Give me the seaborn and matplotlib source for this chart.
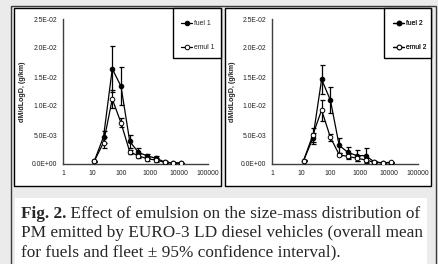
import numpy as np
import pandas as pd
import seaborn as sns
import matplotlib
matplotlib.use("Agg")
import matplotlib.pyplot as plt
from matplotlib.patches import Rectangle
from matplotlib.lines import Line2D
from matplotlib.ticker import NullLocator, FixedLocator

# ---------------- data ----------------
diam = [12, 25, 50, 100, 200, 400, 800, 1600, 3200, 6400, 12000]

fuel1 = [0.5e-3, 4.7e-3, 16.4e-3, 13.4e-3, 3.9e-3, 2.0e-3, 1.4e-3, 1.0e-3, 0.35e-3, 0.15e-3, 0.2e-3]
fuel1_err = [0.1e-3, 1.0e-3, 4.0e-3, 3.3e-3, 1.1e-3, 0.8e-3, 0.4e-3, 0.4e-3, 0.1e-3, 0.05e-3, 0.05e-3]
emul1 = [0.5e-3, 3.7e-3, 11.2e-3, 7.1e-3, 2.1e-3, 1.4e-3, 0.9e-3, 0.7e-3, 0.3e-3, 0.15e-3, 0.2e-3]
emul1_err = [0.1e-3, 1.0e-3, 1.5e-3, 0.8e-3, 0.4e-3, 0.4e-3, 0.3e-3, 0.3e-3, 0.1e-3, 0.05e-3, 0.05e-3]

fuel2 = [0.57e-3, 4.4e-3, 14.6e-3, 11.0e-3, 3.2e-3, 2.0e-3, 1.45e-3, 1.45e-3, 0.35e-3, 0.2e-3, 0.25e-3]
fuel2_err = [0.1e-3, 1.0e-3, 2.5e-3, 2.2e-3, 1.3e-3, 0.9e-3, 0.9e-3, 1.35e-3, 0.1e-3, 0.05e-3, 0.05e-3]
emul2 = [0.57e-3, 5.0e-3, 9.3e-3, 4.6e-3, 1.6e-3, 1.3e-3, 1.0e-3, 0.7e-3, 0.3e-3, 0.2e-3, 0.3e-3]
emul2_err = [0.1e-3, 1.2e-3, 1.8e-3, 0.6e-3, 0.3e-3, 0.5e-3, 0.4e-3, 0.4e-3, 0.1e-3, 0.05e-3, 0.05e-3]

x_ticks = [1, 10, 100, 1000, 10000, 100000]
x_ticklabels = ["1", "10", "100", "1000", "10000", "100000"]
y_ticks = [0.0, 0.005, 0.010, 0.015, 0.020, 0.025]
y_ticklabels = ["0.0E+00", "5.0E-03", "1.0E-02", "1.5E-02", "2.0E-02", "2.5E-02"]
ylabel = "dM/dLogD, (g/km)"
caption_bold = "Fig. 2."
caption_lines = [
    " Effect of emulsion on the size-mass distribution of",
    "PM emitted by EURO-3 LD diesel vehicles (overall mean",
    "for fuels and fleet \u00b1 95% confidence interval).",
]

# ---------------- figure ----------------
sns.set_style("white")
plt.rcParams["font.family"] = ["Liberation Sans", "DejaVu Sans"]

W, H = 439, 264
fig = plt.figure(figsize=(W / 100, H / 100), dpi=100)
fig.patch.set_facecolor("#ebebeb")

bg = fig.add_axes([0, 0, 1, 1], zorder=0)
bg.set_xlim(0, W)
bg.set_ylim(H, 0)
bg.axis("off")

# outer frame, panels, caption box
bg.add_patch(Rectangle((11.5, 5.5), 424.5, 262, fill=False, ec="#3a3a3a", lw=1))
panels = [(14.5, 221.5), (225.5, 431.5)]
for x0, x1 in panels:
    bg.add_patch(Rectangle((x0, 7.5), x1 - x0, 178.5, fc="white", ec="black", lw=1))
bg.add_patch(Rectangle((15, 198), 412, 70, fc="white", ec="none"))

# legend boxes
leg_boxes = [(173.5, 221.5), (384.5, 431.5)]
for x0, x1 in leg_boxes:
    bg.add_patch(Rectangle((x0, 7.5), x1 - x0, 50.5, fc="white", ec="black", lw=1))


def make_axes(rect_px, label_x_px):
    l, t, r, b = rect_px
    ax = fig.add_axes([l / W, 1 - b / H, (r - l) / W, (b - t) / H], zorder=1)
    ax.patch.set_alpha(0)
    ax.set_xscale("log")
    ax.set_xlim(1, 100000)
    ax.set_ylim(0, 0.025)
    ax.xaxis.set_major_locator(FixedLocator(x_ticks))
    ax.xaxis.set_minor_locator(NullLocator())
    ax.set_xticklabels(x_ticklabels)
    ax.set_yticks(y_ticks)
    ax.set_yticklabels(y_ticklabels)
    for s in ["top", "right"]:
        ax.spines[s].set_visible(False)
    for s in ["left", "bottom"]:
        ax.spines[s].set_color("#404040")
        ax.spines[s].set_linewidth(1.0)
    ax.tick_params(axis="both", direction="out", length=2, width=0.8,
                   labelsize=4.9, colors="#404040", labelcolor="#222222")
    ax.tick_params(axis="y", pad=2.2)
    ax.tick_params(axis="x", pad=2.2)
    ax.set_xlabel("")
    ax.set_ylabel(ylabel, fontsize=5.1, fontweight="bold", color="#222222")
    ax.yaxis.set_label_coords((label_x_px - l) / (r - l), 0.5)
    return ax


def draw_series(ax, y, yerr, filled):
    df = pd.DataFrame({"d": diam, "v": y})
    ax.errorbar(diam, y, yerr=yerr, fmt="none", ecolor="black",
                elinewidth=0.9, capsize=1.8, capthick=0.9, zorder=2)
    sns.lineplot(data=df, x="d", y="v", ax=ax, color="black", linewidth=0.9,
                 marker="o", markersize=3.3, markeredgewidth=0.7,
                 markeredgecolor="black",
                 markerfacecolor="black" if filled else "white",
                 legend=False, zorder=3)
    ax.set_xlabel("")
    ax.set_ylabel(ylabel, fontsize=5.1, fontweight="bold", color="#222222")


ax1 = make_axes((63, 19, 208, 164), 26)
draw_series(ax1, fuel1, fuel1_err, True)
draw_series(ax1, emul1, emul1_err, False)

ax2 = make_axes((272, 19, 418, 164), 236)
draw_series(ax2, fuel2, fuel2_err, True)
draw_series(ax2, emul2, emul2_err, False)

# legends
leg_specs = [(178, ["fuel 1", "emul 1"]), (390, ["fuel 2", "emul 2"])]
for hx, labels in leg_specs:
    handles = [
        Line2D([], [], color="black", lw=0.9, marker="o", markersize=3.3,
               mfc="black", mec="black", mew=0.7),
        Line2D([], [], color="black", lw=0.9, marker="o", markersize=3.3,
               mfc="white", mec="black", mew=0.7),
    ]
    leg = bg.legend(handles, labels, loc="upper left",
                    bbox_to_anchor=(hx, 16.5), bbox_transform=bg.transData,
                    frameon=False, fontsize=4.9, borderpad=0,
                    labelspacing=2.5, handlelength=1.6, handletextpad=0.3)
    for t in leg.get_texts():
        t.set_color("#222222")
    bg.add_artist(leg)

# caption
serif = ["Liberation Serif", "DejaVu Serif"]
fs = 11
r = fig.canvas.get_renderer()
x0 = 21
tb = bg.text(x0, 218, caption_bold, fontfamily=serif, fontweight="bold",
             fontsize=fs, va="baseline", ha="left")
t1 = bg.text(x0, 218, caption_lines[0], fontfamily=serif, fontsize=fs,
             va="baseline", ha="left")
wtot = tb.get_window_extent(r).width + t1.get_window_extent(r).width
fs = fs * 398.0 / wtot
tb.set_fontsize(fs)
t1.set_fontsize(fs)
wb = tb.get_window_extent(r).width
t1.set_x(x0 + wb)
bg.text(x0, 237, caption_lines[1], fontfamily=serif, fontsize=fs,
        va="baseline", ha="left")
bg.text(x0, 256, caption_lines[2], fontfamily=serif, fontsize=fs,
        va="baseline", ha="left")

fig.savefig("out.png", dpi=100, facecolor=fig.get_facecolor())
